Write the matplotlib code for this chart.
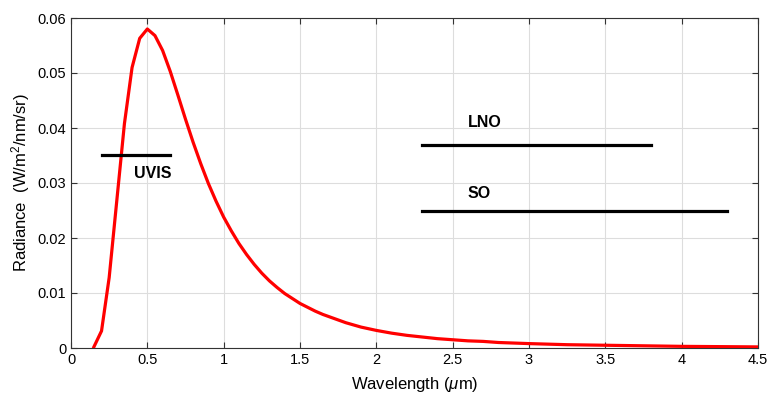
import matplotlib.pyplot as plt
import numpy as np

plt.rcParams['font.family'] = ['Liberation Sans', 'DejaVu Sans']
plt.rcParams['mathtext.fontset'] = 'custom'
plt.rcParams['mathtext.rm'] = 'Liberation Sans'
plt.rcParams['mathtext.it'] = 'Liberation Sans:italic'

# solar radiance
wavelength = np.array([0.15, 0.20, 0.25, 0.30, 0.35, 0.40, 0.45, 0.50, 0.55, 0.60,
                       0.65, 0.70, 0.75, 0.80, 0.85, 0.90, 0.95, 1.00, 1.05, 1.10,
                       1.15, 1.20, 1.25, 1.30, 1.35, 1.40, 1.45, 1.50, 1.55, 1.60,
                       1.65, 1.70, 1.75, 1.80, 1.85, 1.90, 1.95, 2.00, 2.10, 2.20,
                       2.30, 2.40, 2.50, 2.60, 2.70, 2.80, 2.90, 3.00, 3.25, 3.50,
                       3.75, 4.00, 4.25, 4.50])
radiance = np.array([0.0002, 0.0031, 0.0128, 0.0268, 0.0408, 0.0510, 0.0563, 0.0580, 0.0568, 0.0541,
                     0.0503, 0.0460, 0.0416, 0.0374, 0.0335, 0.0299, 0.0267, 0.0238, 0.0213, 0.0190,
                     0.0170, 0.0152, 0.0136, 0.0122, 0.0110, 0.0099, 0.0090, 0.0081, 0.0074, 0.0067,
                     0.0061, 0.0056, 0.0051, 0.0046, 0.0042, 0.0038, 0.0035, 0.0032, 0.0027, 0.0023,
                     0.0020, 0.0017, 0.0015, 0.0013, 0.0012, 0.0010, 0.0009, 0.0008, 0.0006, 0.0005,
                     0.0004, 0.0003, 0.00025, 0.0002])

# instrument channels
channels = ["UVIS", "LNO", "SO"]
ch_start = [0.2, 2.3, 2.3]
ch_end = [0.65, 3.8, 4.3]
ch_level = [0.035, 0.037, 0.025]
label_x = [0.41, 2.6, 2.6]
label_y = [0.0318, 0.041, 0.028]

xticks = [0, 0.5, 1, 1.5, 2, 2.5, 3, 3.5, 4, 4.5]
xticklabels = ["0", "0.5", "1", "1.5", "2", "2.5", "3", "3.5", "4", "4.5"]
yticks = [0, 0.01, 0.02, 0.03, 0.04, 0.05, 0.06]
yticklabels = ["0", "0.01", "0.02", "0.03", "0.04", "0.05", "0.06"]

fig = plt.figure(figsize=(7.72, 4.0), dpi=100)
ax = fig.add_axes([71/772, 52/400, 687/772, 330/400])

ax.plot(wavelength, radiance, color="#ff0000", lw=2.3, zorder=3)

for name, x0, x1, lev, tx, ty in zip(channels, ch_start, ch_end, ch_level, label_x, label_y):
    ax.plot([x0, x1], [lev, lev], color="black", lw=2.3, zorder=4)
    ax.text(tx, ty, name, fontsize=11.5, fontweight="bold", va="center", ha="left")

ax.set_xlim(0, 4.5)
ax.set_ylim(0, 0.06)
ax.set_xticks(xticks)
ax.set_xticklabels(xticklabels)
ax.set_yticks(yticks)
ax.set_yticklabels(yticklabels)
ax.tick_params(direction="in", top=True, right=True, labelsize=10.5, color="#333333", length=4)
ax.grid(True, color="#dddddd", lw=0.8)
ax.set_axisbelow(True)
for s in ax.spines.values():
    s.set_color("#333333")
    s.set_linewidth(0.8)

ax.set_xlabel(r"Wavelength ($\mu$m)", fontsize=12, labelpad=6)
ax.set_ylabel(r"Radiance  (W/m$^2$/nm/sr)", fontsize=12)

fig.savefig("out.png", dpi=100)
